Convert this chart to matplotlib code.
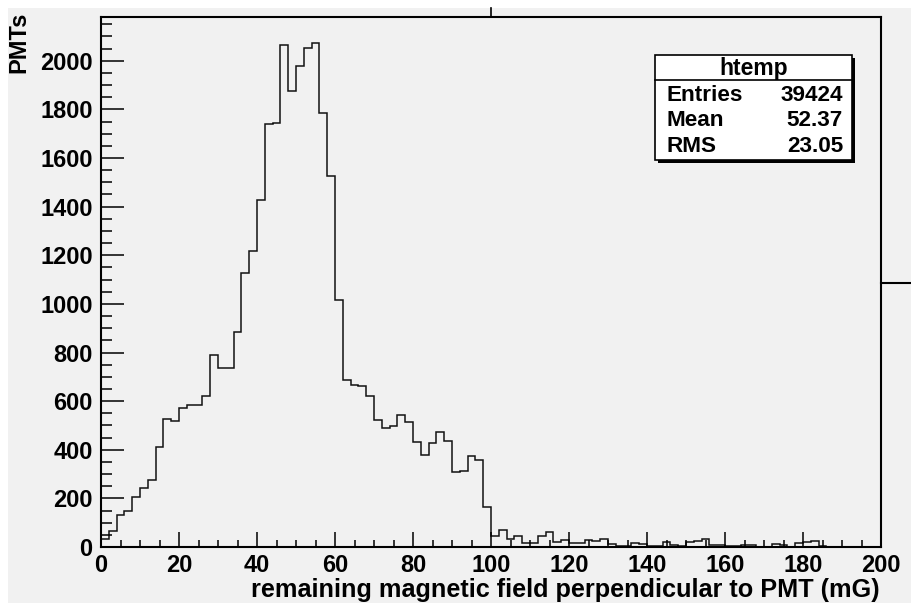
import numpy as np
import matplotlib
matplotlib.use("Agg")
import matplotlib.pyplot as plt
from matplotlib.patches import Rectangle
from matplotlib.lines import Line2D

# histogram contents, 100 bins of 2 mG between 0 and 200
bin_edges = np.arange(0, 202, 2)
counts = [32, 67, 130, 148, 204, 241, 276, 412, 528, 519,
          573, 584, 584, 622, 790, 736, 737, 883, 1127, 1217,
          1428, 1739, 1745, 2063, 1875, 1978, 2054, 2075, 1787, 1524,
          1015, 688, 668, 663, 623, 522, 491, 497, 542, 515,
          431, 380, 427, 473, 434, 309, 312, 376, 357, 163,
          47, 70, 32, 47, 18, 18, 47, 60, 19, 29,
          15, 15, 29, 26, 33, 12, 5, 4, 15, 11,
          4, 4, 22, 8, 4, 22, 26, 32, 8, 8,
          4, 4, 8, 8, 1, 1, 12, 8, 1, 15,
          19, 26, 4, 1, 0, 0, 0, 0, 0, 0]

stat_names = ["Entries", "Mean", "RMS"]
stat_values = ["39424", "52.37", "23.05"]

W, H = 911, 603
BG = "#f1f1f1"
plt.rcParams['font.family'] = ['Liberation Sans', 'DejaVu Sans']
plt.rcParams['font.weight'] = 'bold'

fig = plt.figure(figsize=(W / 100, H / 100), dpi=100, facecolor="white")

def fx(px):
    return px / W

def fy(py):
    return 1 - py / H

# gray canvas (screen grab leaves a white edge top and left)
fig.patches.append(Rectangle((fx(8), 0), 1 - fx(8), fy(8), transform=fig.transFigure,
                             facecolor=BG, edgecolor="none", zorder=-5))

ax = fig.add_axes([fx(101), fy(547), fx(881) - fx(101), fy(17) - fy(547)])
ax.set_zorder(1)
ax.set_facecolor(BG)
ax.stairs(counts, bin_edges, color="#111111", linewidth=1.1)

ax.set_xlim(0, 200)
ax.set_ylim(0, 2180)
ax.set_xticks(np.arange(0, 201, 20))
ax.set_xticks(np.arange(0, 201, 5), minor=True)
ax.set_yticks(np.arange(0, 2001, 200))
ax.set_yticks(np.arange(0, 2151, 50), minor=True)
for s in ax.spines.values():
    s.set_linewidth(1.5)

ax.tick_params(axis="x", which="major", direction="in", length=11, width=1.1, pad=5, labelsize=17)
ax.tick_params(axis="x", which="minor", direction="in", length=5, width=1.1)
ax.tick_params(axis="y", which="major", direction="in", length=16.5, width=1.1, pad=6, labelsize=17)
ax.tick_params(axis="y", which="minor", direction="in", length=8, width=1.1)

fig.text(fx(880), fy(590), "remaining magnetic field perpendicular to PMT (mG)",
         ha="right", va="center", fontsize=18.2, fontweight="bold", zorder=3)
fig.text(fx(19), fy(12), "PMTs", rotation=90, ha="center", va="top",
         fontsize=17, fontweight="bold", zorder=3)

# stats box with shadow
bx0, bx1, by0, by1 = 655, 852, 55, 160
fig.patches.append(Rectangle((fx(bx0 + 3), fy(by1 + 3)), fx(bx1 - bx0), fy(by0) - fy(by1),
                             transform=fig.transFigure, facecolor="black",
                             edgecolor="none", zorder=5))
fig.patches.append(Rectangle((fx(bx0), fy(by1)), fx(bx1 - bx0), fy(by0) - fy(by1),
                             transform=fig.transFigure, facecolor="white",
                             edgecolor="black", linewidth=1.2, zorder=6))
fig.lines.append(Line2D([fx(bx0), fx(bx1)], [fy(80), fy(80)], transform=fig.transFigure,
                        color="black", linewidth=1.2, zorder=7))
fig.text(fx((bx0 + bx1) / 2), fy(68), "htemp", ha="center", va="center",
         fontsize=16.5, fontweight="bold", zorder=8)
for i, (name, val) in enumerate(zip(stat_names, stat_values)):
    yy = fy(96 + i * 25)
    fig.text(fx(666), yy, name, ha="left", va="center", fontsize=16.2, fontweight="bold", zorder=8)
    fig.text(fx(843), yy, val, ha="right", va="center", fontsize=16.2, fontweight="bold", zorder=8)

# stray pad edges of the canvas
fig.lines.append(Line2D([fx(491), fx(491)], [fy(8), fy(17)], transform=fig.transFigure,
                        color="black", linewidth=1.2, zorder=3))
fig.lines.append(Line2D([fx(881), fx(911)], [fy(283), fy(283)], transform=fig.transFigure,
                        color="black", linewidth=1.5, zorder=3))

fig.savefig("out.png", dpi=100, facecolor="white")
